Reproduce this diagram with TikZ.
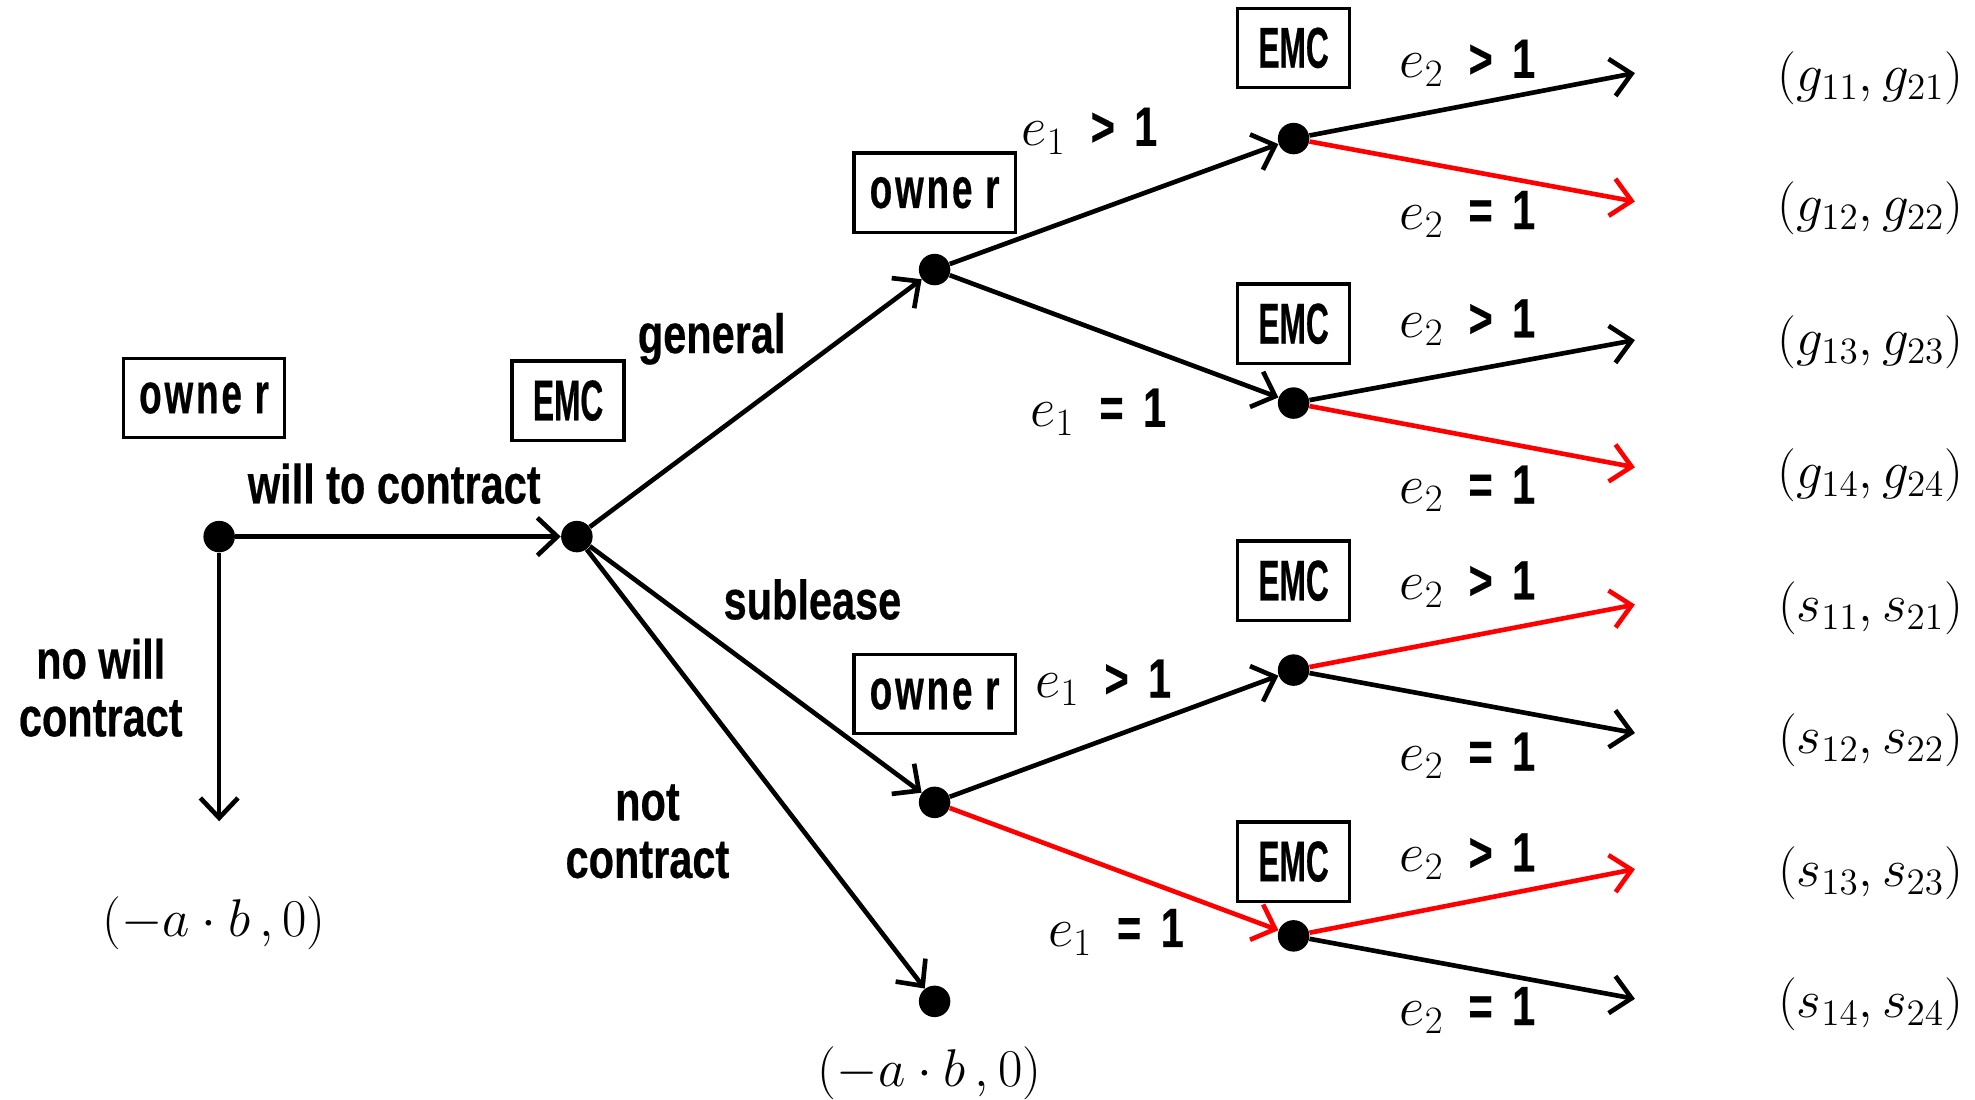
\documentclass[tikz,border=0pt]{standalone}
\usepackage{fix-cm}
\usepackage{fontspec}
\newfontfamily\labfont[FakeStretch=0.75,FakeBold=0.4]{Liberation Sans}
\newfontfamily\ownfont[FakeStretch=0.64,FakeBold=0.4]{Liberation Sans}
\newfontfamily\emcfont[FakeStretch=0.55,FakeBold=0.4]{Liberation Sans}
\usetikzlibrary{arrows.meta}
\tikzset{
  dot/.style={circle, fill=black, inner sep=0pt, minimum size=0.5cm},
  lab/.style={inner sep=0pt, align=center, font=\labfont\bfseries\fontsize{25}{26}\selectfont},
  math/.style={inner sep=0pt, font=\fontsize{24}{28}\selectfont},
  ownerbox/.style={draw, line width=1.5pt, inner sep=0pt, minimum width=2.56cm, minimum height=1.26cm,
    font=\ownfont\bfseries\fontsize{26}{26}\selectfont},
  emcbox/.style={draw, line width=1.5pt, inner sep=0pt, minimum width=1.78cm, minimum height=1.26cm,
    font=\emcfont\bfseries\fontsize{26}{26}\selectfont},
  arr/.style={line width=2.1pt, -{Straight Barb[length=9pt,width=17pt]}},
  redarr/.style={arr, red}
}
\newcommand{\gt}[1]{$e_{#1}$\hspace{0.45em}>\hspace{0.35em}1}
\newcommand{\eq}[1]{$e_{#1}$\hspace{0.45em}=\hspace{0.35em}1}
\newcommand{\own}{o\hspace{0.05em}w\hspace{0.05em}n\hspace{0.05em}e\hspace{0.22em}r}
\begin{document}
\begin{tikzpicture}[x=0.02cm, y=-0.02cm]
\path[fill=white] (0,0) rectangle (1568,873);
\useasboundingbox (0,0) rectangle (1568,873);

% dots
\node[dot] (R) at (174,426) {};
\node[dot] (E0) at (458,426) {};
\node[dot] (Og) at (742,214) {};
\node[dot] (Os) at (742,637) {};
\node[dot] (N) at (742,795) {};
\node[dot] (E1) at (1027,110) {};
\node[dot] (E2) at (1027,320) {};
\node[dot] (E3) at (1027,532) {};
\node[dot] (E4) at (1027,743) {};

% free ends
\coordinate (Rd) at (174,652);
\coordinate (t1) at (1298,58);
\coordinate (t2) at (1298,160);
\coordinate (t3) at (1298,270);
\coordinate (t4) at (1298,371);
\coordinate (t5) at (1298,480);
\coordinate (t6) at (1298,582);
\coordinate (t7) at (1298,690);
\coordinate (t8) at (1298,793);

% boxes
\node[ownerbox] (b0) at (162,316) {\own};
\node[emcbox] (b1) at (451,318) {EMC};
\node[ownerbox] (b2) at (742,153) {\own};
\node[ownerbox] (b3) at (742,551) {\own};
\node[emcbox] (b4) at (1027,38) {EMC};
\node[emcbox] (b5) at (1027,257) {EMC};
\node[emcbox] (b6) at (1027,461) {EMC};
\node[emcbox] (b7) at (1027,684) {EMC};

% edges
\draw[arr] (R) -- (E0);
\draw[arr] (R) -- (Rd);
\draw[arr] (E0) -- (Og);
\draw[arr] (E0) -- (Os);
\draw[arr] (E0) -- (N);
\draw[arr] (Og) -- (E1);
\draw[arr] (Og) -- (E2);
\draw[arr] (Os) -- (E3);
\draw[redarr] (Os) -- (E4);
\draw[arr] (E1) -- (t1);
\draw[redarr] (E1) -- (t2);
\draw[arr] (E2) -- (t3);
\draw[redarr] (E2) -- (t4);
\draw[redarr] (E3) -- (t5);
\draw[arr] (E3) -- (t6);
\draw[redarr] (E4) -- (t7);
\draw[arr] (E4) -- (t8);

% action labels
\node[lab] (l1) at (313,384) {will to contract};
\node[lab] (l2) at (80,546) {no will\\contract};
\node[lab] (l3) at (565,269) {general};
\node[lab] (l4) at (645,476) {sublease};
\node[lab] (l5) at (514,660) {not\\contract};

% effort labels
\node[lab] (a1) at (865,104) {\gt{1}};
\node[lab] (a2) at (872,327) {\eq{1}};
\node[lab] (a3) at (876,542) {\gt{1}};
\node[lab] (a4) at (886,740) {\eq{1}};

\node[lab] (c1) at (1165,50) {\gt{2}};
\node[lab] (c2) at (1165,170) {\eq{2}};
\node[lab] (c3) at (1165,256) {\gt{2}};
\node[lab] (c4) at (1165,388) {\eq{2}};
\node[lab] (c5) at (1165,464) {\gt{2}};
\node[lab] (c6) at (1165,600) {\eq{2}};
\node[lab] (c7) at (1165,680) {\gt{2}};
\node[lab] (c8) at (1165,802) {\eq{2}};

% payoffs
\node[math] (p1) at (1485,62) {$(g_{11},g_{21})$};
\node[math] (p2) at (1485,165) {$(g_{12},g_{22})$};
\node[math] (p3) at (1485,272) {$(g_{13},g_{23})$};
\node[math] (p4) at (1485,377) {$(g_{14},g_{24})$};
\node[math] (p5) at (1485,483) {$(s_{11},s_{21})$};
\node[math] (p6) at (1485,588) {$(s_{12},s_{22})$};
\node[math] (p7) at (1485,693) {$(s_{13},s_{23})$};
\node[math] (p8) at (1485,797) {$(s_{14},s_{24})$};

\node[math] (q1) at (170,733) {$(-a\cdot b\,,0)$};
\node[math] (q2) at (738,852) {$(-a\cdot b\,,0)$};
\end{tikzpicture}
\end{document}
